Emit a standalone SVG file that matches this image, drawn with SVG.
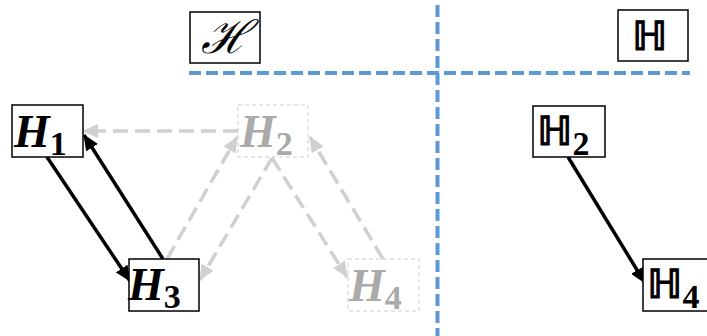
<svg xmlns="http://www.w3.org/2000/svg" width="707" height="336" viewBox="0 0 707 336">
<defs>
<marker id="ab" markerUnits="userSpaceOnUse" markerWidth="16" markerHeight="14" refX="15" refY="7" orient="auto"><path d="M0,0 L16,7 L0,14 Z" fill="#000"/></marker>
<marker id="ag" markerUnits="userSpaceOnUse" markerWidth="16" markerHeight="14" refX="15" refY="7" orient="auto"><path d="M0,0 L16,7 L0,14 Z" fill="#d0d0d0"/></marker>
</defs>
<style>
.box{fill:#fff;stroke:#000;stroke-width:1.5}
.gbox{fill:none;stroke:#cccccc;stroke-width:1;stroke-dasharray:4 3}
.t{font-family:"Liberation Serif",serif;font-weight:bold;font-style:italic;font-size:46px;fill:#000}
.s{font-style:normal;font-size:34px}
.g{fill:#aaaaaa}
.bb{font-family:"DejaVu Sans",sans-serif;font-weight:bold;font-size:40px;fill:#000;stroke:#000;stroke-width:1}
.sub{font-family:"Liberation Serif",serif;font-weight:bold;font-size:34px;stroke:none}
.blue{stroke:#5b9bd5;stroke-width:4;stroke-dasharray:12 5;fill:none}
.ce{stroke:#000;stroke-width:3.5;fill:none;marker-end:url(#ab)}
.ge{stroke:#d0d0d0;stroke-width:3.5;stroke-dasharray:15 7;fill:none;marker-end:url(#ag)}
</style>
<rect width="707" height="336" fill="#fff"/>
<g id="dividers">
<line class="blue" x1="189" y1="73" x2="690" y2="73"/>
<line class="blue" x1="437.5" y1="5" x2="437.5" y2="336"/>
</g>
<g id="connectors">
<line class="ge" x1="238" y1="131" x2="83" y2="131"/>
<line class="ge" x1="167" y1="259" x2="237" y2="137"/>
<line class="ge" x1="272" y1="158" x2="200" y2="280"/>
<line class="ge" x1="272" y1="158" x2="347" y2="277"/>
<line class="ge" x1="383" y1="259" x2="310" y2="137"/>
<line class="ce" x1="47" y1="157" x2="130" y2="281"/>
<line class="ce" x1="163" y1="259" x2="84" y2="135"/>
<line class="ce" x1="568" y1="157" x2="645" y2="283"/>
</g>
<g id="script-H">
<rect class="box" x="190" y="12" width="70" height="51"/>
<text x="225" y="53" text-anchor="middle" style="font-family:'DejaVu Serif',serif;font-style:italic;font-size:46px">ℋ</text>
</g>
<g id="bb-H">
<rect class="box" x="618" y="10" width="70" height="51"/>
<text class="bb" x="632" y="50">ℍ</text>
</g>
<g id="H1">
<rect class="box" x="12" y="105" width="71" height="52"/>
<text class="t" x="14" y="147">H<tspan class="s" dy="8">1</tspan></text>
</g>
<g id="H2">
<rect class="gbox" x="238" y="105" width="70" height="52"/>
<text class="t g" x="240" y="147">H<tspan class="s" dy="8">2</tspan></text>
</g>
<g id="H3">
<rect class="box" x="129" y="259" width="70" height="52"/>
<text class="t" x="128" y="300">H<tspan class="s" dy="8">3</tspan></text>
</g>
<g id="H4">
<rect class="gbox" x="348" y="259" width="71" height="52"/>
<text class="t g" x="349" y="301">H<tspan class="s" dy="8">4</tspan></text>
</g>
<g id="BH2">
<rect class="box" x="533" y="106" width="72" height="51"/>
<text class="bb" x="537" y="145">ℍ<tspan class="sub" dy="10">2</tspan></text>
</g>
<g id="BH4">
<rect class="box" x="643" y="259" width="70" height="52"/>
<text class="bb" x="647" y="298">ℍ<tspan class="sub" dy="10">4</tspan></text>
</g>
</svg>
